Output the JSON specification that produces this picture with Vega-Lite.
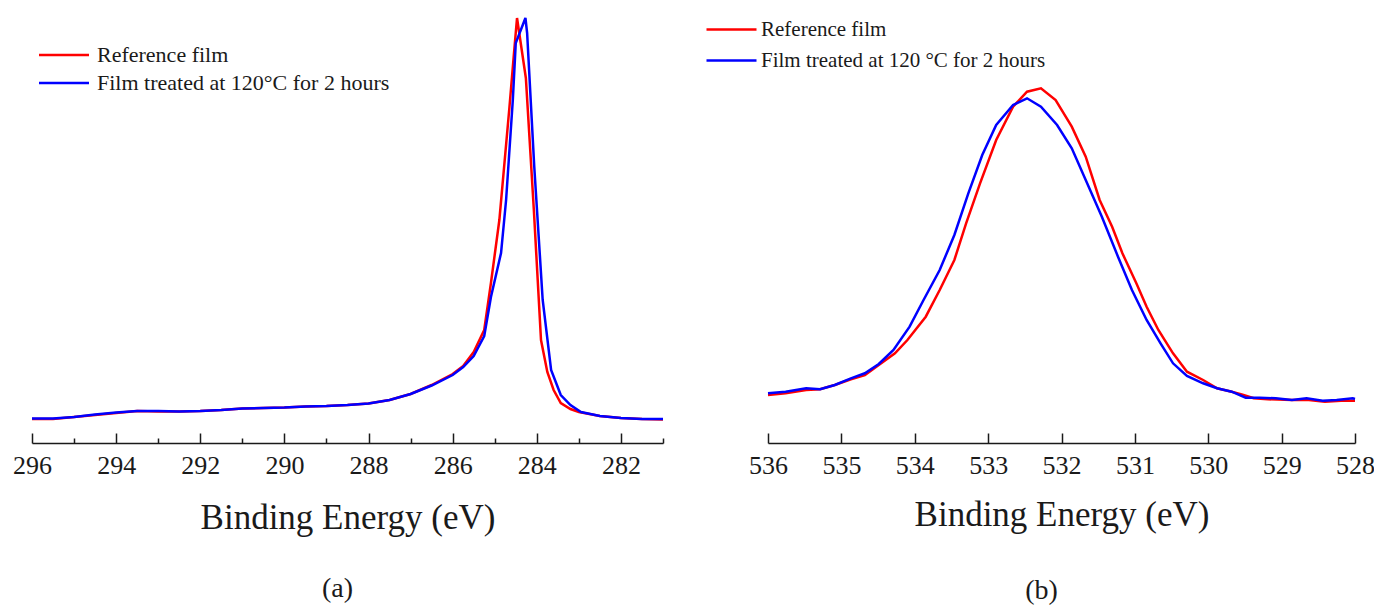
{
  "$schema": "https://vega.github.io/schema/vega-lite/v6.json",
  "padding": {"left": 12, "top": 0, "right": 0, "bottom": 4},
  "background": "white",
  "bounds": "flush",
  "spacing": 105,
  "config": {"font": "Liberation Serif", "view": {"stroke": null}},
  "data": {"values": [
    {"panel": "a", "series": "Reference film", "energy": 296.0, "intensity": 24},
    {"panel": "a", "series": "Reference film", "energy": 295.5, "intensity": 24},
    {"panel": "a", "series": "Reference film", "energy": 295.0, "intensity": 26},
    {"panel": "a", "series": "Reference film", "energy": 294.5, "intensity": 28},
    {"panel": "a", "series": "Reference film", "energy": 294.0, "intensity": 30},
    {"panel": "a", "series": "Reference film", "energy": 293.5, "intensity": 32},
    {"panel": "a", "series": "Reference film", "energy": 293.0, "intensity": 31.5},
    {"panel": "a", "series": "Reference film", "energy": 292.5, "intensity": 31.5},
    {"panel": "a", "series": "Reference film", "energy": 292.0, "intensity": 32},
    {"panel": "a", "series": "Reference film", "energy": 291.5, "intensity": 33},
    {"panel": "a", "series": "Reference film", "energy": 291.0, "intensity": 34.5},
    {"panel": "a", "series": "Reference film", "energy": 290.5, "intensity": 35},
    {"panel": "a", "series": "Reference film", "energy": 290.0, "intensity": 35.5},
    {"panel": "a", "series": "Reference film", "energy": 289.5, "intensity": 36.5},
    {"panel": "a", "series": "Reference film", "energy": 289.0, "intensity": 37},
    {"panel": "a", "series": "Reference film", "energy": 288.5, "intensity": 38},
    {"panel": "a", "series": "Reference film", "energy": 288.0, "intensity": 39.5},
    {"panel": "a", "series": "Reference film", "energy": 287.5, "intensity": 43},
    {"panel": "a", "series": "Reference film", "energy": 287.0, "intensity": 49},
    {"panel": "a", "series": "Reference film", "energy": 286.5, "intensity": 58},
    {"panel": "a", "series": "Reference film", "energy": 286.0, "intensity": 69},
    {"panel": "a", "series": "Reference film", "energy": 285.75, "intensity": 77},
    {"panel": "a", "series": "Reference film", "energy": 285.5, "intensity": 91},
    {"panel": "a", "series": "Reference film", "energy": 285.25, "intensity": 113},
    {"panel": "a", "series": "Reference film", "energy": 285.09, "intensity": 160},
    {"panel": "a", "series": "Reference film", "energy": 284.89, "intensity": 223},
    {"panel": "a", "series": "Reference film", "energy": 284.65, "intensity": 336},
    {"panel": "a", "series": "Reference film", "energy": 284.55, "intensity": 386},
    {"panel": "a", "series": "Reference film", "energy": 284.47, "intensity": 425},
    {"panel": "a", "series": "Reference film", "energy": 284.26, "intensity": 365},
    {"panel": "a", "series": "Reference film", "energy": 284.07, "intensity": 233},
    {"panel": "a", "series": "Reference film", "energy": 283.9, "intensity": 103},
    {"panel": "a", "series": "Reference film", "energy": 283.75, "intensity": 71},
    {"panel": "a", "series": "Reference film", "energy": 283.6, "intensity": 53},
    {"panel": "a", "series": "Reference film", "energy": 283.43, "intensity": 40},
    {"panel": "a", "series": "Reference film", "energy": 283.2, "intensity": 34},
    {"panel": "a", "series": "Reference film", "energy": 283.0, "intensity": 31},
    {"panel": "a", "series": "Reference film", "energy": 282.5, "intensity": 27},
    {"panel": "a", "series": "Reference film", "energy": 282.0, "intensity": 25},
    {"panel": "a", "series": "Reference film", "energy": 281.5, "intensity": 24},
    {"panel": "a", "series": "Reference film", "energy": 281.0, "intensity": 23.5},

    {"panel": "a", "series": "Film treated at 120°C for 2 hours", "energy": 296.0, "intensity": 24.5},
    {"panel": "a", "series": "Film treated at 120°C for 2 hours", "energy": 295.5, "intensity": 24.5},
    {"panel": "a", "series": "Film treated at 120°C for 2 hours", "energy": 295.0, "intensity": 26},
    {"panel": "a", "series": "Film treated at 120°C for 2 hours", "energy": 294.5, "intensity": 28.5},
    {"panel": "a", "series": "Film treated at 120°C for 2 hours", "energy": 294.0, "intensity": 30.5},
    {"panel": "a", "series": "Film treated at 120°C for 2 hours", "energy": 293.5, "intensity": 32},
    {"panel": "a", "series": "Film treated at 120°C for 2 hours", "energy": 293.0, "intensity": 32},
    {"panel": "a", "series": "Film treated at 120°C for 2 hours", "energy": 292.5, "intensity": 31.5},
    {"panel": "a", "series": "Film treated at 120°C for 2 hours", "energy": 292.0, "intensity": 32},
    {"panel": "a", "series": "Film treated at 120°C for 2 hours", "energy": 291.5, "intensity": 33},
    {"panel": "a", "series": "Film treated at 120°C for 2 hours", "energy": 291.0, "intensity": 34.5},
    {"panel": "a", "series": "Film treated at 120°C for 2 hours", "energy": 290.5, "intensity": 35},
    {"panel": "a", "series": "Film treated at 120°C for 2 hours", "energy": 290.0, "intensity": 35.5},
    {"panel": "a", "series": "Film treated at 120°C for 2 hours", "energy": 289.5, "intensity": 36.5},
    {"panel": "a", "series": "Film treated at 120°C for 2 hours", "energy": 289.0, "intensity": 37},
    {"panel": "a", "series": "Film treated at 120°C for 2 hours", "energy": 288.5, "intensity": 38},
    {"panel": "a", "series": "Film treated at 120°C for 2 hours", "energy": 288.0, "intensity": 39.5},
    {"panel": "a", "series": "Film treated at 120°C for 2 hours", "energy": 287.5, "intensity": 43},
    {"panel": "a", "series": "Film treated at 120°C for 2 hours", "energy": 287.0, "intensity": 49},
    {"panel": "a", "series": "Film treated at 120°C for 2 hours", "energy": 286.5, "intensity": 57.5},
    {"panel": "a", "series": "Film treated at 120°C for 2 hours", "energy": 286.0, "intensity": 68},
    {"panel": "a", "series": "Film treated at 120°C for 2 hours", "energy": 285.75, "intensity": 76},
    {"panel": "a", "series": "Film treated at 120°C for 2 hours", "energy": 285.5, "intensity": 87},
    {"panel": "a", "series": "Film treated at 120°C for 2 hours", "energy": 285.25, "intensity": 107},
    {"panel": "a", "series": "Film treated at 120°C for 2 hours", "energy": 285.09, "intensity": 146},
    {"panel": "a", "series": "Film treated at 120°C for 2 hours", "energy": 284.85, "intensity": 190},
    {"panel": "a", "series": "Film treated at 120°C for 2 hours", "energy": 284.73, "intensity": 243},
    {"panel": "a", "series": "Film treated at 120°C for 2 hours", "energy": 284.57, "intensity": 343},
    {"panel": "a", "series": "Film treated at 120°C for 2 hours", "energy": 284.5, "intensity": 400},
    {"panel": "a", "series": "Film treated at 120°C for 2 hours", "energy": 284.27, "intensity": 425},
    {"panel": "a", "series": "Film treated at 120°C for 2 hours", "energy": 284.23, "intensity": 410},
    {"panel": "a", "series": "Film treated at 120°C for 2 hours", "energy": 284.06, "intensity": 276},
    {"panel": "a", "series": "Film treated at 120°C for 2 hours", "energy": 283.86, "intensity": 143},
    {"panel": "a", "series": "Film treated at 120°C for 2 hours", "energy": 283.66, "intensity": 73},
    {"panel": "a", "series": "Film treated at 120°C for 2 hours", "energy": 283.43, "intensity": 48},
    {"panel": "a", "series": "Film treated at 120°C for 2 hours", "energy": 283.2, "intensity": 38},
    {"panel": "a", "series": "Film treated at 120°C for 2 hours", "energy": 282.95, "intensity": 31},
    {"panel": "a", "series": "Film treated at 120°C for 2 hours", "energy": 282.5, "intensity": 27},
    {"panel": "a", "series": "Film treated at 120°C for 2 hours", "energy": 282.0, "intensity": 25},
    {"panel": "a", "series": "Film treated at 120°C for 2 hours", "energy": 281.5, "intensity": 24},
    {"panel": "a", "series": "Film treated at 120°C for 2 hours", "energy": 281.0, "intensity": 24},

    {"panel": "b", "series": "Reference film", "energy": 536.0, "intensity": 48},
    {"panel": "b", "series": "Reference film", "energy": 535.76, "intensity": 49.7},
    {"panel": "b", "series": "Reference film", "energy": 535.48, "intensity": 53},
    {"panel": "b", "series": "Reference film", "energy": 535.29, "intensity": 53.7},
    {"panel": "b", "series": "Reference film", "energy": 535.09, "intensity": 58},
    {"panel": "b", "series": "Reference film", "energy": 534.87, "intensity": 63.7},
    {"panel": "b", "series": "Reference film", "energy": 534.68, "intensity": 68},
    {"panel": "b", "series": "Reference film", "energy": 534.49, "intensity": 78},
    {"panel": "b", "series": "Reference film", "energy": 534.27, "intensity": 89.7},
    {"panel": "b", "series": "Reference film", "energy": 534.1, "intensity": 103},
    {"panel": "b", "series": "Reference film", "energy": 533.85, "intensity": 126.3},
    {"panel": "b", "series": "Reference film", "energy": 533.66, "intensity": 153},
    {"panel": "b", "series": "Reference film", "energy": 533.46, "intensity": 183},
    {"panel": "b", "series": "Reference film", "energy": 533.3, "intensity": 219.7},
    {"panel": "b", "series": "Reference film", "energy": 533.11, "intensity": 259.7},
    {"panel": "b", "series": "Reference film", "energy": 532.89, "intensity": 303},
    {"panel": "b", "series": "Reference film", "energy": 532.66, "intensity": 336.3},
    {"panel": "b", "series": "Reference film", "energy": 532.47, "intensity": 351.3},
    {"panel": "b", "series": "Reference film", "energy": 532.28, "intensity": 354.7},
    {"panel": "b", "series": "Reference film", "energy": 532.08, "intensity": 343},
    {"panel": "b", "series": "Reference film", "energy": 531.86, "intensity": 316.3},
    {"panel": "b", "series": "Reference film", "energy": 531.67, "intensity": 286.3},
    {"panel": "b", "series": "Reference film", "energy": 531.48, "intensity": 243},
    {"panel": "b", "series": "Reference film", "energy": 531.31, "intensity": 216.3},
    {"panel": "b", "series": "Reference film", "energy": 531.17, "intensity": 189.7},
    {"panel": "b", "series": "Reference film", "energy": 530.98, "intensity": 159.7},
    {"panel": "b", "series": "Reference film", "energy": 530.84, "intensity": 136.3},
    {"panel": "b", "series": "Reference film", "energy": 530.68, "intensity": 113},
    {"panel": "b", "series": "Reference film", "energy": 530.48, "intensity": 89.7},
    {"panel": "b", "series": "Reference film", "energy": 530.29, "intensity": 71.3},
    {"panel": "b", "series": "Reference film", "energy": 530.07, "intensity": 63},
    {"panel": "b", "series": "Reference film", "energy": 529.88, "intensity": 54.7},
    {"panel": "b", "series": "Reference film", "energy": 529.68, "intensity": 51.3},
    {"panel": "b", "series": "Reference film", "energy": 529.52, "intensity": 48},
    {"panel": "b", "series": "Reference film", "energy": 529.38, "intensity": 44.7},
    {"panel": "b", "series": "Reference film", "energy": 529.19, "intensity": 43.7},
    {"panel": "b", "series": "Reference film", "energy": 528.86, "intensity": 43},
    {"panel": "b", "series": "Reference film", "energy": 528.63, "intensity": 43},
    {"panel": "b", "series": "Reference film", "energy": 528.41, "intensity": 41.3},
    {"panel": "b", "series": "Reference film", "energy": 528.19, "intensity": 42.3},
    {"panel": "b", "series": "Reference film", "energy": 528.0, "intensity": 42.3},

    {"panel": "b", "series": "Film treated at 120 °C for 2 hours", "energy": 536.0, "intensity": 49.7},
    {"panel": "b", "series": "Film treated at 120 °C for 2 hours", "energy": 535.76, "intensity": 51.3},
    {"panel": "b", "series": "Film treated at 120 °C for 2 hours", "energy": 535.48, "intensity": 54.7},
    {"panel": "b", "series": "Film treated at 120 °C for 2 hours", "energy": 535.29, "intensity": 53.7},
    {"panel": "b", "series": "Film treated at 120 °C for 2 hours", "energy": 535.09, "intensity": 58},
    {"panel": "b", "series": "Film treated at 120 °C for 2 hours", "energy": 534.87, "intensity": 64.7},
    {"panel": "b", "series": "Film treated at 120 °C for 2 hours", "energy": 534.68, "intensity": 69.7},
    {"panel": "b", "series": "Film treated at 120 °C for 2 hours", "energy": 534.49, "intensity": 79},
    {"panel": "b", "series": "Film treated at 120 °C for 2 hours", "energy": 534.29, "intensity": 93},
    {"panel": "b", "series": "Film treated at 120 °C for 2 hours", "energy": 534.07, "intensity": 116.3},
    {"panel": "b", "series": "Film treated at 120 °C for 2 hours", "energy": 533.88, "intensity": 143},
    {"panel": "b", "series": "Film treated at 120 °C for 2 hours", "energy": 533.66, "intensity": 173},
    {"panel": "b", "series": "Film treated at 120 °C for 2 hours", "energy": 533.46, "intensity": 208},
    {"panel": "b", "series": "Film treated at 120 °C for 2 hours", "energy": 533.27, "intensity": 249.7},
    {"panel": "b", "series": "Film treated at 120 °C for 2 hours", "energy": 533.08, "intensity": 288},
    {"panel": "b", "series": "Film treated at 120 °C for 2 hours", "energy": 532.89, "intensity": 318},
    {"panel": "b", "series": "Film treated at 120 °C for 2 hours", "energy": 532.66, "intensity": 338},
    {"panel": "b", "series": "Film treated at 120 °C for 2 hours", "energy": 532.47, "intensity": 344.7},
    {"panel": "b", "series": "Film treated at 120 °C for 2 hours", "energy": 532.28, "intensity": 336.3},
    {"panel": "b", "series": "Film treated at 120 °C for 2 hours", "energy": 532.06, "intensity": 318},
    {"panel": "b", "series": "Film treated at 120 °C for 2 hours", "energy": 531.86, "intensity": 294.7},
    {"panel": "b", "series": "Film treated at 120 °C for 2 hours", "energy": 531.67, "intensity": 263},
    {"panel": "b", "series": "Film treated at 120 °C for 2 hours", "energy": 531.45, "intensity": 226.3},
    {"panel": "b", "series": "Film treated at 120 °C for 2 hours", "energy": 531.23, "intensity": 186.3},
    {"panel": "b", "series": "Film treated at 120 °C for 2 hours", "energy": 531.04, "intensity": 153},
    {"panel": "b", "series": "Film treated at 120 °C for 2 hours", "energy": 530.84, "intensity": 123},
    {"panel": "b", "series": "Film treated at 120 °C for 2 hours", "energy": 530.65, "intensity": 99.7},
    {"panel": "b", "series": "Film treated at 120 °C for 2 hours", "energy": 530.48, "intensity": 79.7},
    {"panel": "b", "series": "Film treated at 120 °C for 2 hours", "energy": 530.29, "intensity": 67},
    {"panel": "b", "series": "Film treated at 120 °C for 2 hours", "energy": 530.07, "intensity": 59.7},
    {"panel": "b", "series": "Film treated at 120 °C for 2 hours", "energy": 529.88, "intensity": 54.7},
    {"panel": "b", "series": "Film treated at 120 °C for 2 hours", "energy": 529.68, "intensity": 51.3},
    {"panel": "b", "series": "Film treated at 120 °C for 2 hours", "energy": 529.49, "intensity": 45.3},
    {"panel": "b", "series": "Film treated at 120 °C for 2 hours", "energy": 529.3, "intensity": 45.3},
    {"panel": "b", "series": "Film treated at 120 °C for 2 hours", "energy": 529.08, "intensity": 44.7},
    {"panel": "b", "series": "Film treated at 120 °C for 2 hours", "energy": 528.86, "intensity": 43},
    {"panel": "b", "series": "Film treated at 120 °C for 2 hours", "energy": 528.66, "intensity": 44.7},
    {"panel": "b", "series": "Film treated at 120 °C for 2 hours", "energy": 528.44, "intensity": 42.3},
    {"panel": "b", "series": "Film treated at 120 °C for 2 hours", "energy": 528.25, "intensity": 43},
    {"panel": "b", "series": "Film treated at 120 °C for 2 hours", "energy": 528.03, "intensity": 44.7},
    {"panel": "b", "series": "Film treated at 120 °C for 2 hours", "energy": 528.0, "intensity": 44}
  ]},
  "resolve": {"scale": {"color": "independent", "x": "independent", "y": "independent"}},
  "hconcat": [
    {
      "width": 631,
      "height": 443,
      "title": {"text": "(a)", "orient": "bottom", "fontSize": 28, "font": "Liberation Serif", "fontWeight": "normal", "color": "#1a1a1a", "offset": 40, "dx": -10},
      "transform": [{"filter": "datum.panel === 'a'"}],
      "mark": {"type": "line", "strokeWidth": 2.5},
      "encoding": {
        "x": {
          "field": "energy", "type": "quantitative",
          "scale": {"domain": [281, 296], "reverse": true, "nice": false, "zero": false},
          "axis": {
            "title": "Binding Energy (eV)",
            "values": [281, 282, 283, 284, 285, 286, 287, 288, 289, 290, 291, 292, 293, 294, 295, 296],
            "format": "d",
            "labelExpr": "datum.value % 2 === 0 ? datum.label : ''",
            "grid": false,
            "domainColor": "#1a1a1a", "domainWidth": 1.5,
            "ticks": true,
            "tickColor": "#1a1a1a", "tickWidth": 1.5,
            "tickSize": {"condition": {"test": "datum.value % 2 === 0", "value": -10}, "value": -5},
            "labelFont": "Liberation Serif", "labelFontSize": 26, "labelColor": "#1a1a1a", "labelPadding": 19,
            "labelOverlap": false, "labelFlush": false,
            "titleFont": "Liberation Serif", "titleFontSize": 35, "titleFontWeight": "normal", "titleColor": "#1a1a1a", "titlePadding": 17
          }
        },
        "y": {
          "field": "intensity", "type": "quantitative",
          "scale": {"domain": [0, 443], "nice": false, "zero": false},
          "axis": null
        },
        "color": {
          "field": "series", "type": "nominal",
          "scale": {"domain": ["Reference film", "Film treated at 120°C for 2 hours"], "range": ["#ff0000", "#0000ff"]},
          "legend": {
            "orient": "none", "legendX": 1, "legendY": 44, "title": null, "padding": 0,
            "symbolType": "M-1,0H9", "symbolSize": 100, "symbolStrokeWidth": 2.5,
            "labelFont": "Liberation Serif", "labelFontSize": 22, "labelColor": "#1a1a1a",
            "labelOffset": 42, "labelLimit": 1000, "rowPadding": 6
          }
        }
      }
    },
    {
      "width": 587,
      "height": 443,
      "title": {"text": "(b)", "orient": "bottom", "fontSize": 28, "font": "Liberation Serif", "fontWeight": "normal", "color": "#1a1a1a", "offset": 45, "dx": -20},
      "transform": [{"filter": "datum.panel === 'b'"}],
      "mark": {"type": "line", "strokeWidth": 2.5},
      "encoding": {
        "x": {
          "field": "energy", "type": "quantitative",
          "scale": {"domain": [528, 536], "reverse": true, "nice": false, "zero": false},
          "axis": {
            "title": "Binding Energy (eV)",
            "values": [528, 528.5, 529, 529.5, 530, 530.5, 531, 531.5, 532, 532.5, 533, 533.5, 534, 534.5, 535, 535.5, 536],
            "format": "d",
            "labelExpr": "datum.value % 1 === 0 ? datum.label : ''",
            "grid": false,
            "domainColor": "#1a1a1a", "domainWidth": 1.5,
            "ticks": true,
            "tickColor": "#1a1a1a", "tickWidth": 1.5,
            "tickSize": {"condition": {"test": "datum.value % 1 === 0", "value": -10}, "value": -5},
            "labelFont": "Liberation Serif", "labelFontSize": 26, "labelColor": "#1a1a1a", "labelPadding": 19,
            "labelOverlap": false, "labelFlush": false,
            "titleFont": "Liberation Serif", "titleFontSize": 35, "titleFontWeight": "normal", "titleColor": "#1a1a1a", "titlePadding": 19
          }
        },
        "y": {
          "field": "intensity", "type": "quantitative",
          "scale": {"domain": [0, 443], "nice": false, "zero": false},
          "axis": null
        },
        "color": {
          "field": "series", "type": "nominal",
          "scale": {"domain": ["Reference film", "Film treated at 120 °C for 2 hours"], "range": ["#ff0000", "#0000ff"]},
          "legend": {
            "orient": "none", "legendX": -67, "legendY": 19, "title": null, "padding": 0,
            "symbolType": "M-1,0H9", "symbolSize": 100, "symbolStrokeWidth": 2.5,
            "labelFont": "Liberation Serif", "labelFontSize": 21, "labelColor": "#1a1a1a",
            "labelOffset": 39, "labelLimit": 1000, "rowPadding": 9
          }
        }
      }
    }
  ]
}
